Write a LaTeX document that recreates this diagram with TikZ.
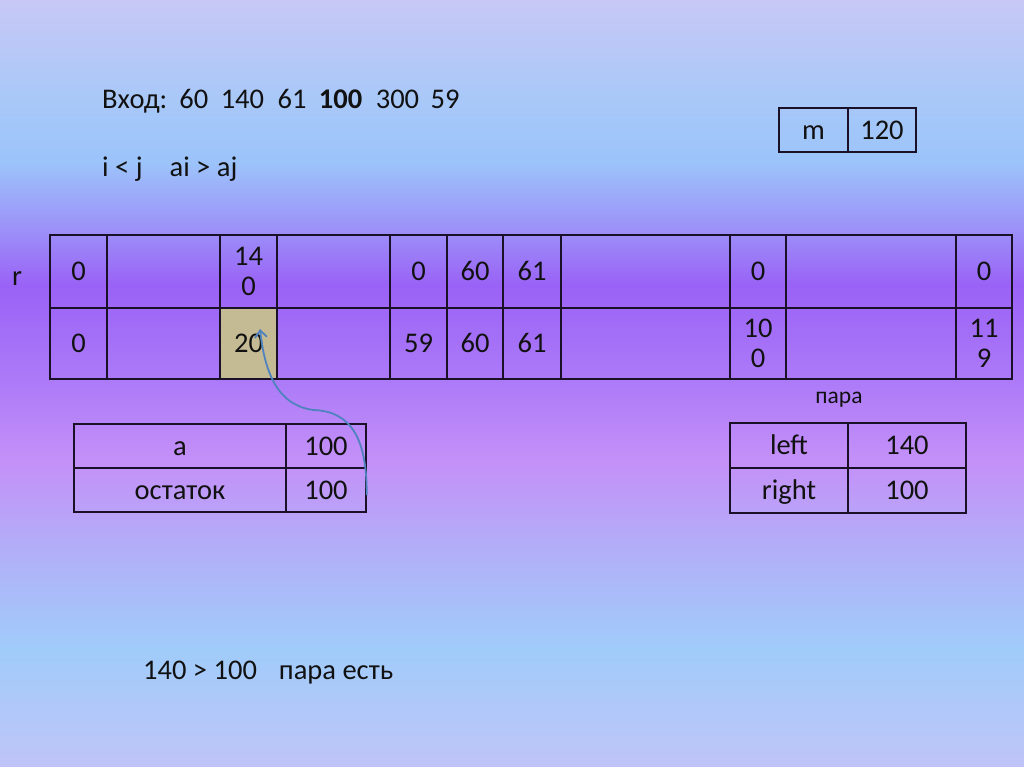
\documentclass[tikz,border=0pt]{standalone}
\usepackage{fontspec}
\setmainfont{Carlito}
\usetikzlibrary{arrows.meta}
\definecolor{bgA}{HTML}{C0C4F8}
\definecolor{bgB}{HTML}{A0CCFA}
\definecolor{bgC}{HTML}{B0B2F8}
\definecolor{bgD}{HTML}{C490F8}
\definecolor{bgE}{HTML}{AC7AF8}
\definecolor{bgF}{HTML}{9A62F6}
\definecolor{bgG}{HTML}{9C90F8}
\definecolor{bgH}{HTML}{9CC4FA}
\definecolor{bgI}{HTML}{A8C8F8}
\definecolor{bgJ}{HTML}{C8C8F6}
\definecolor{lineC}{HTML}{1A1028}
\definecolor{txtC}{HTML}{111111}
\definecolor{tanC}{HTML}{C4BB94}
\definecolor{arrC}{HTML}{4F82BE}
\pgfdeclareverticalshading{slidebg}{100bp}{color(0bp)=(bgA); color(25bp)=(bgA); color(32.65bp)=(bgB); color(38.5bp)=(bgC); color(45bp)=(bgD); color(50.25bp)=(bgE); color(56.4bp)=(bgF); color(60bp)=(bgG); color(64.5bp)=(bgH); color(68.5bp)=(bgI); color(75bp)=(bgJ); color(100bp)=(bgJ)}
\tikzset{
  cellbase/.style={draw=lineC, line width=1.4pt, inner sep=0pt, text=txtC, font=\fontsize{28.5}{30}\selectfont},
  cell/.style={cellbase, text height=18.5pt, text depth=0pt},
  cellii/.style={cellbase, align=center},
  plain/.style={inner sep=0pt, text=txtC, font=\fontsize{28.5}{30}\selectfont},
  link/.style={draw=arrC, line width=1.8pt, -{Straight Barb[length=7pt,width=12pt,line width=1.8pt]}}
}
\begin{document}
\begin{tikzpicture}[x=1pt,y=-1pt]
\shade[shading=slidebg] (0,0) rectangle (1024,767);
\useasboundingbox (0,0) rectangle (1024,767);

% top texts
\node[plain, anchor=base west] (inp) at (102,109) {Вход:\hspace{12pt}60\hspace{12.5pt}140\hspace{13.5pt}61\hspace{12.5pt}\textbf{100}\hspace{13.5pt}300\hspace{11.5pt}59};
\node[plain, anchor=base west] (cond) at (102,177) {i < j\hspace{27pt}ai > aj};

% m table
\node[cell, minimum width=69pt, minimum height=44pt] (mk) at (813.5,130) {m};
\node[cell, minimum width=68pt, minimum height=44pt] (mv) at (882,130) {120};

% r label
\node[plain, anchor=base] (rl) at (17,285) {r};

% main table row 1
\node[cell, minimum width=57pt, minimum height=73pt] (a1) at (78.5,271.5) {0};
\node[cell, minimum width=113pt, minimum height=73pt] (a2) at (163.5,271.5) {};
\node[cellii, minimum width=57pt, minimum height=73pt] (a3) at (248.5,271.5) {14\\0};
\node[cell, minimum width=113pt, minimum height=73pt] (a4) at (333.5,271.5) {};
\node[cell, minimum width=57pt, minimum height=73pt] (a5) at (418.5,271.5) {0};
\node[cell, minimum width=56pt, minimum height=73pt] (a6) at (475,271.5) {60};
\node[cell, minimum width=58pt, minimum height=73pt] (a7) at (532,271.5) {61};
\node[cell, minimum width=169pt, minimum height=73pt] (a8) at (645.5,271.5) {};
\node[cell, minimum width=56pt, minimum height=73pt] (a9) at (758,271.5) {0};
\node[cell, minimum width=170pt, minimum height=73pt] (a10) at (871,271.5) {};
\node[cell, minimum width=56pt, minimum height=73pt] (a11) at (984,271.5) {0};
% main table row 2
\node[cell, minimum width=57pt, minimum height=71pt] (b1) at (78.5,343.5) {0};
\node[cell, minimum width=113pt, minimum height=71pt] (b2) at (163.5,343.5) {};
\node[cell, fill=tanC, minimum width=57pt, minimum height=71pt] (b3) at (248.5,343.5) {20};
\node[cell, minimum width=113pt, minimum height=71pt] (b4) at (333.5,343.5) {};
\node[cell, minimum width=57pt, minimum height=71pt] (b5) at (418.5,343.5) {59};
\node[cell, minimum width=56pt, minimum height=71pt] (b6) at (475,343.5) {60};
\node[cell, minimum width=58pt, minimum height=71pt] (b7) at (532,343.5) {61};
\node[cell, minimum width=169pt, minimum height=71pt] (b8) at (645.5,343.5) {};
\node[cellii, minimum width=56pt, minimum height=71pt] (b9) at (758,343.5) {10\\0};
\node[cell, minimum width=170pt, minimum height=71pt] (b10) at (871,343.5) {};
\node[cellii, minimum width=56pt, minimum height=71pt] (b11) at (984,343.5) {11\\9};

% a / remainder table
\node[cell, minimum width=212pt, minimum height=44pt] (ak) at (180,446) {а};
\node[cell, minimum width=80pt, minimum height=44pt] (av) at (326,446) {100};
\node[cell, minimum width=212pt, minimum height=44pt] (rk) at (180,490) {остаток};
\node[cell, minimum width=80pt, minimum height=44pt] (rv) at (326,490) {100};

% pair table
\node[plain, anchor=base] (pl) at (839,403) {\fontsize{23.5}{27}\selectfont пара};
\node[cell, minimum width=118pt, minimum height=45pt] (lk) at (789,445.5) {left};
\node[cell, minimum width=118pt, minimum height=45pt] (lv) at (907,445.5) {140};
\node[cell, minimum width=118pt, minimum height=45pt] (gk) at (789,490.5) {right};
\node[cell, minimum width=118pt, minimum height=45pt] (gv) at (907,490.5) {100};

% bottom text
\node[plain, anchor=base west] (res) at (143,679) {140 > 100\hspace{22pt}пара есть};

% arrow
\coordinate (arrS) at (rv.east |- 0,495);
\coordinate (arrE) at (260,329);
\draw[link] (arrS) .. controls (367,440) and (352,411) .. (313,410)
  .. controls (285,406) and (266,385) .. (arrE);
\end{tikzpicture}
\end{document}
